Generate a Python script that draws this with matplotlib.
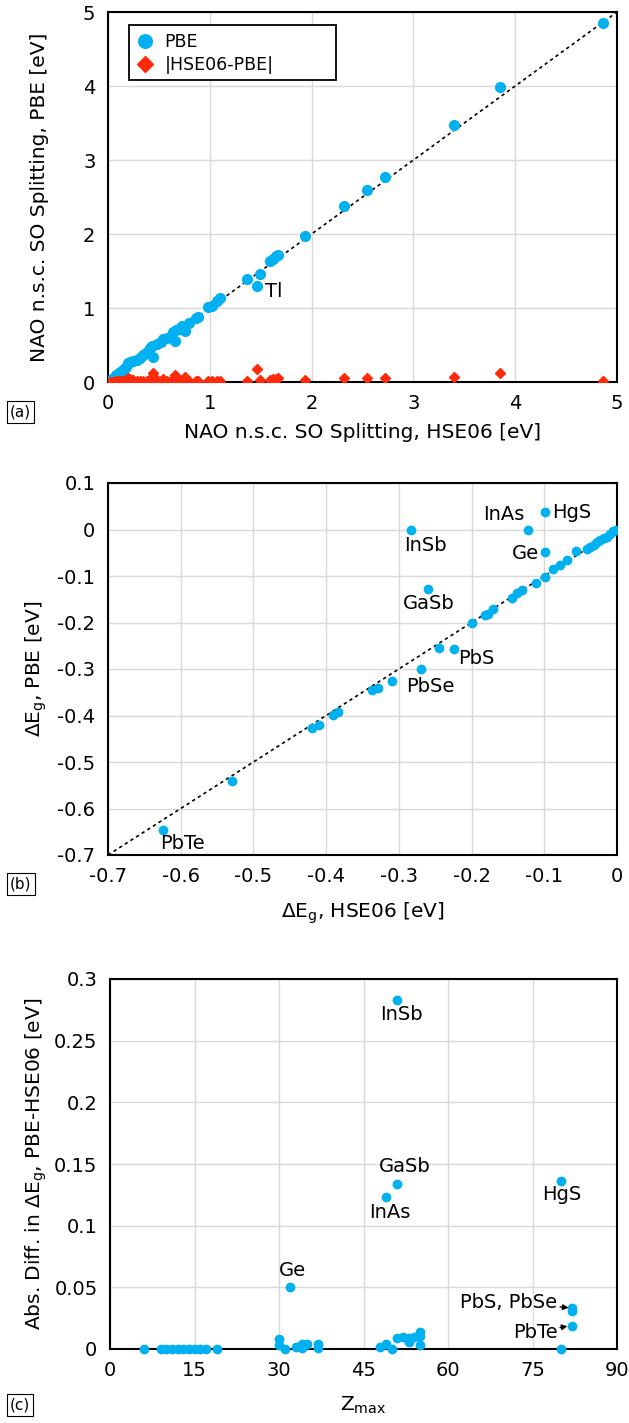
import matplotlib
matplotlib.use("Agg")
import matplotlib.pyplot as plt
from matplotlib.patches import Rectangle

plt.rcParams["font.family"] = ["DejaVu Sans"]
plt.rcParams["axes.unicode_minus"] = False

BLUE = "#00B0F0"
RED = "#FF2A0A"
GRID = "#D9D9D9"
FS = 14
FS_LAB = 14.5

# (a) SO splitting, HSE06 vs PBE
hse_a = [0.02, 0.04, 0.06, 0.08, 0.10, 0.12, 0.14, 0.16, 0.18, 0.20, 0.22, 0.25,
         0.28, 0.31, 0.34, 0.38, 0.41, 0.43, 0.44, 0.48, 0.52, 0.54, 0.58, 0.64,
         0.66, 0.67, 0.70, 0.73, 0.75, 0.76, 0.80, 0.86, 0.88, 0.98, 1.02, 1.07,
         1.10, 1.37, 1.46, 1.49, 1.59, 1.62, 1.65, 1.67, 1.94, 2.32, 2.54, 2.72,
         3.40, 3.85, 4.86]
pbe_a = [0.02, 0.04, 0.06, 0.09, 0.11, 0.13, 0.15, 0.17, 0.20, 0.26, 0.27, 0.28,
         0.30, 0.33, 0.36, 0.40, 0.46, 0.48, 0.34, 0.51, 0.54, 0.58, 0.60, 0.68,
         0.56, 0.70, 0.72, 0.76, 0.75, 0.69, 0.80, 0.87, 0.88, 1.02, 1.03, 1.10,
         1.13, 1.39, 1.30, 1.46, 1.64, 1.66, 1.70, 1.72, 1.97, 2.38, 2.60, 2.77,
         3.47, 3.98, 4.85]
diff_a = [0.00, 0.00, 0.00, 0.01, 0.01, 0.01, 0.01, 0.01, 0.02, 0.05, 0.04, 0.03,
          0.02, 0.02, 0.02, 0.02, 0.04, 0.05, 0.12, 0.03, 0.02, 0.04, 0.02, 0.04,
          0.10, 0.03, 0.02, 0.03, 0.01, 0.07, 0.01, 0.01, 0.02, 0.02, 0.01, 0.02,
          0.02, 0.02, 0.18, 0.03, 0.03, 0.04, 0.04, 0.05, 0.03, 0.05, 0.06, 0.05,
          0.07, 0.12, 0.02]

# (b) band gap change, HSE06 vs PBE
hse_b = [-0.002, -0.006, -0.010, -0.014, -0.018, -0.023, -0.028, -0.032, -0.037,
         -0.041, -0.057, -0.069, -0.079, -0.088, -0.099, -0.112, -0.131, -0.137,
         -0.144, -0.170, -0.177, -0.181, -0.200, -0.245, -0.224, -0.270, -0.310,
         -0.329, -0.337, -0.384, -0.390, -0.410, -0.420, -0.530, -0.625,
         -0.283, -0.122, -0.099, -0.099, -0.260]
pbe_b = [0.000, -0.004, -0.009, -0.016, -0.019, -0.023, -0.027, -0.034, -0.037,
         -0.041, -0.046, -0.066, -0.077, -0.086, -0.102, -0.116, -0.130, -0.136,
         -0.147, -0.172, -0.181, -0.184, -0.202, -0.254, -0.258, -0.301, -0.326,
         -0.340, -0.346, -0.392, -0.399, -0.421, -0.427, -0.541, -0.646,
         0.000, 0.000, 0.038, -0.048, -0.127]
labels_b = ["InSb", "InAs", "HgS", "Ge", "GaSb", "PbS", "PbSe", "PbTe"]
label_pos_b = [(-0.264, -0.034), (-0.155, 0.033), (-0.062, 0.037), (-0.126, -0.052),
               (-0.259, -0.159), (-0.193, -0.277), (-0.257, -0.337), (-0.598, -0.675)]

# (c) abs. difference vs Z_max
z_c = [6, 9, 10, 11, 12, 13, 14, 15, 16, 17, 19, 30, 30, 31, 33, 34, 34, 35, 37, 37,
       48, 49, 50, 51, 52, 53, 53, 54, 55, 55, 55, 32, 49, 51, 51, 80, 80, 82, 82, 82]
d_c = [0, 0, 0, 0, 0, 0, 0, 0, 0, 0, 0, 0.008, 0.003, 0.0, 0.002, 0.004, 0.001,
       0.004, 0.004, 0.001, 0.002, 0.004, 0.0, 0.009, 0.010, 0.009, 0.006, 0.010,
       0.0105, 0.014, 0.003, 0.050, 0.123, 0.134, 0.283, 0.136, 0.0, 0.033, 0.031,
       0.019]
labels_c = ["InSb", "GaSb", "InAs", "HgS", "Ge"]
label_pos_c = [(51.8, 0.271), (52.3, 0.148), (49.6, 0.111), (80.2, 0.125), (32.4, 0.064)]

W, H = 629, 1423
fig = plt.figure(figsize=(W / 100, H / 100), dpi=100)


def make_axes(left, top, right, bottom):
    # pixel box -> figure fraction
    return fig.add_axes([left / W, 1 - bottom / H, (right - left) / W, (bottom - top) / H])


def style(ax):
    ax.grid(True, color=GRID, lw=1)
    ax.set_axisbelow(True)
    for s in ax.spines.values():
        s.set_linewidth(1.5)
    ax.tick_params(axis="x", length=0, labelsize=FS, pad=8.5)
    ax.tick_params(axis="y", length=0, labelsize=FS, pad=9)


def place_labels(ax, xlab_y, ylab_x=40):
    ax.xaxis.label.set_verticalalignment("center")
    ax.yaxis.label.set_verticalalignment("center")
    pos = ax.get_position()
    ax.xaxis.set_label_coords((pos.x0 + pos.x1) / 2, 1 - xlab_y / H, transform=fig.transFigure)
    ax.yaxis.set_label_coords(ylab_x / W, (pos.y0 + pos.y1) / 2, transform=fig.transFigure)


def panel_tag(tag, y):
    fig.text(0.016, 1 - y / H, tag, fontsize=11, va="center", ha="left",
             bbox=dict(boxstyle="square,pad=0.2", fc="white", ec="black", lw=0.8))


# ---- (a)
ax1 = make_axes(108, 12, 617, 382)
style(ax1)
ax1.plot([0, 5], [0, 5], color="black", ls=(0, (2, 2)), lw=1.2, zorder=2)
ax1.plot(hse_a, pbe_a, "o", color=BLUE, ms=7, label="PBE", zorder=3)
ax1.plot(hse_a, diff_a, "D", color=RED, ms=5.5, label="|HSE06-PBE|", zorder=3)
ax1.set_xlim(0, 5)
ax1.set_ylim(0, 5)
ax1.set_xticks(range(6))
ax1.set_yticks(range(6))
ax1.text(1.54, 1.22, "Tl", fontsize=FS, ha="left", va="center")
ax1.set_xlabel("NAO n.s.c. SO Splitting, HSE06 [eV]", fontsize=FS_LAB)
ax1.set_ylabel("NAO n.s.c. SO Splitting, PBE [eV]", fontsize=FS_LAB)
place_labels(ax1, 432)
ax1.add_patch(Rectangle((0.041, 0.816), 0.407, 0.149, transform=ax1.transAxes,
                        fc="white", ec="black", lw=1.3, zorder=4))
leg = ax1.legend(loc="upper left", bbox_to_anchor=(0.041, 0.965), borderaxespad=0,
                 frameon=False, fontsize=12.5, markerscale=1.4, handlelength=1.0,
                 handletextpad=0.6, borderpad=0.45, labelspacing=0.3)
leg.set_zorder(5)
panel_tag("(a)", 412)

# ---- (b)
ax2 = make_axes(108, 483, 617, 855)
style(ax2)
ax2.plot([-0.7, 0], [-0.7, 0], color="black", ls=(0, (2, 2)), lw=1.2, zorder=2)
ax2.plot(hse_b, pbe_b, "o", color=BLUE, ms=6, zorder=3)
for name, (x, y) in zip(labels_b, label_pos_b):
    ax2.text(x, y, name, fontsize=FS, ha="center", va="center")
ax2.set_xlim(-0.7, 0)
ax2.set_ylim(-0.7, 0.1)
ax2.set_xticks([-0.7, -0.6, -0.5, -0.4, -0.3, -0.2, -0.1, 0])
ax2.set_xticklabels(["-0.7", "-0.6", "-0.5", "-0.4", "-0.3", "-0.2", "-0.1", "0"])
ax2.set_yticks([-0.7, -0.6, -0.5, -0.4, -0.3, -0.2, -0.1, 0, 0.1])
ax2.set_yticklabels(["-0.7", "-0.6", "-0.5", "-0.4", "-0.3", "-0.2", "-0.1", "0", "0.1"])
ax2.set_xlabel("ΔE$_\\mathregular{g}$, HSE06 [eV]", fontsize=FS_LAB)
ax2.set_ylabel("ΔE$_\\mathregular{g}$, PBE [eV]", fontsize=FS_LAB)
place_labels(ax2, 913, 36)
panel_tag("(b)", 884)

# ---- (c)
ax3 = make_axes(110, 979, 617, 1349)
style(ax3)
ax3.plot(z_c, d_c, "o", color=BLUE, ms=6, zorder=3, clip_on=False)
for name, (x, y) in zip(labels_c, label_pos_c):
    ax3.text(x, y, name, fontsize=FS, ha="center", va="center")
ax3.annotate("PbS, PbSe", xy=(81.4, 0.0335), xytext=(79.4, 0.0375),
             fontsize=FS, ha="right", va="center",
             arrowprops=dict(arrowstyle="-|>", color="black", lw=1, mutation_scale=8,
                             shrinkA=0, shrinkB=0))
ax3.annotate("PbTe", xy=(81.2, 0.0185), xytext=(79.4, 0.0135),
             fontsize=FS, ha="right", va="center",
             arrowprops=dict(arrowstyle="-|>", color="black", lw=1, mutation_scale=8,
                             shrinkA=0, shrinkB=0))
ax3.set_xlim(0, 90)
ax3.set_ylim(0, 0.3)
ax3.set_xticks(range(0, 91, 15))
ax3.set_yticks([0, 0.05, 0.1, 0.15, 0.2, 0.25, 0.3])
ax3.set_yticklabels(["0", "0.05", "0.1", "0.15", "0.2", "0.25", "0.3"])
ax3.set_xlabel("Z$_\\mathregular{max}$", fontsize=FS_LAB)
ax3.set_ylabel("Abs. Diff. in ΔE$_\\mathregular{g}$, PBE-HSE06 [eV]", fontsize=FS_LAB)
place_labels(ax3, 1405, 36)
panel_tag("(c)", 1405)

fig.savefig("out.png", dpi=100)
